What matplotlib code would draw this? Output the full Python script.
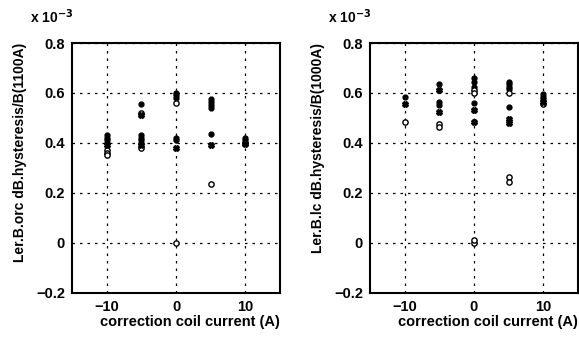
import matplotlib
matplotlib.use("Agg")
import matplotlib.pyplot as plt

plt.rcParams['font.family'] = ['Liberation Sans', 'DejaVu Sans']
plt.rcParams['font.weight'] = 'bold'
plt.rcParams['mathtext.default'] = 'bf'

# values in units of 1e-3
# left panel: Ler.B.orc
orc_filled_x = [-10, -10, -10, -10, -5, -5, -5, -5, -5, 0, 0, 0, 0, 0, 5, 5, 5, 5, 5, 10, 10, 10]
orc_filled_y = [0.43, 0.42, 0.41, 0.40, 0.555, 0.43, 0.42, 0.41, 0.40, 0.60, 0.59, 0.58, 0.42, 0.41,
                0.575, 0.565, 0.55, 0.54, 0.435, 0.42, 0.41, 0.40]
orc_open_x = [-10, -10, -10, -5, -5, 0, 0, 5, 10]
orc_open_y = [0.37, 0.36, 0.35, 0.52, 0.38, 0.56, 0.0, 0.235, 0.40]
orc_cross_x = [-10, -5, -5, 0, 5, 10]
orc_cross_y = [0.39, 0.51, 0.39, 0.38, 0.39, 0.395]

# right panel: Ler.B.lc
lc_filled_x = [-10, -5, -5, -5, 0, 0, 0, 0, 5, 5, 5, 5, 5, 10, 10, 10]
lc_filled_y = [0.585, 0.635, 0.565, 0.55, 0.66, 0.645, 0.625, 0.56, 0.645, 0.635, 0.625, 0.615,
               0.545, 0.595, 0.585, 0.575]
lc_open_x = [-10, -5, -5, 0, 0, 0, 0, 5, 5, 5, 10]
lc_open_y = [0.485, 0.475, 0.465, 0.61, 0.60, 0.0, 0.01, 0.60, 0.265, 0.245, 0.555]
lc_cross_x = [-10, -5, -5, 0, 0, 5, 5, 10]
lc_cross_y = [0.555, 0.61, 0.525, 0.53, 0.485, 0.495, 0.48, 0.565]

xticks = [-10, 0, 10]
yticks = [-0.2, 0, 0.2, 0.4, 0.6, 0.8]
ytick_labels = ['\u22120.2', '0', '0.2', '0.4', '0.6', '0.8']
xtick_labels = ['\u221210', '0', '10']

fig = plt.figure(figsize=(5.79, 3.37), dpi=100)
ax1 = fig.add_axes([0.1244, 0.1306, 0.3592, 0.7418])
ax2 = fig.add_axes([0.639, 0.1306, 0.3592, 0.7418])

panels = [
    (ax1, orc_filled_x, orc_filled_y, orc_open_x, orc_open_y, orc_cross_x, orc_cross_y,
     'Ler.B.orc dB.hysteresis/B(1100A)'),
    (ax2, lc_filled_x, lc_filled_y, lc_open_x, lc_open_y, lc_cross_x, lc_cross_y,
     'Ler.B.lc dB.hysteresis/B(1000A)'),
]

for ax, fx, fy, ox, oy, cx, cy, ylab in panels:
    ax.plot(fx, fy, 'o', color='black', markersize=3.5, linestyle='none')
    ax.plot(ox, oy, 'o', markerfacecolor='white', markeredgecolor='black',
            markeredgewidth=1.0, markersize=3.8, linestyle='none')
    ax.plot(cx, cy, 'X', color='black', markersize=4, linestyle='none')
    ax.set_xlim(-15, 15)
    ax.set_ylim(-0.2, 0.8)
    ax.set_xticks(xticks)
    ax.set_xticklabels(xtick_labels)
    ax.set_yticks(yticks)
    ax.set_yticklabels(ytick_labels)
    ax.grid(True, color='black', linestyle=(0, (2, 4)), linewidth=0.9)
    ax.tick_params(direction='in', length=0, labelsize=10.5, pad=5)
    for s in ax.spines.values():
        s.set_linewidth(1.5)
    ax.set_xlabel('correction coil current (A)', fontsize=10.5, fontweight='bold')
    ax.xaxis.set_label_coords(1.0, -0.09)
    ax.xaxis.label.set_horizontalalignment('right')
    ax.set_ylabel(ylab, fontsize=10, fontweight='bold')
    ax.yaxis.set_label_coords(-0.25, 1.0)
    ax.yaxis.label.set_verticalalignment('center')
    ax.yaxis.label.set_horizontalalignment('right')
    ax.text(-0.2, 1.07, 'x 10$^{-3}$', transform=ax.transAxes,
            fontsize=10, ha='left', va='bottom')

fig.savefig('out.png', dpi=100)
